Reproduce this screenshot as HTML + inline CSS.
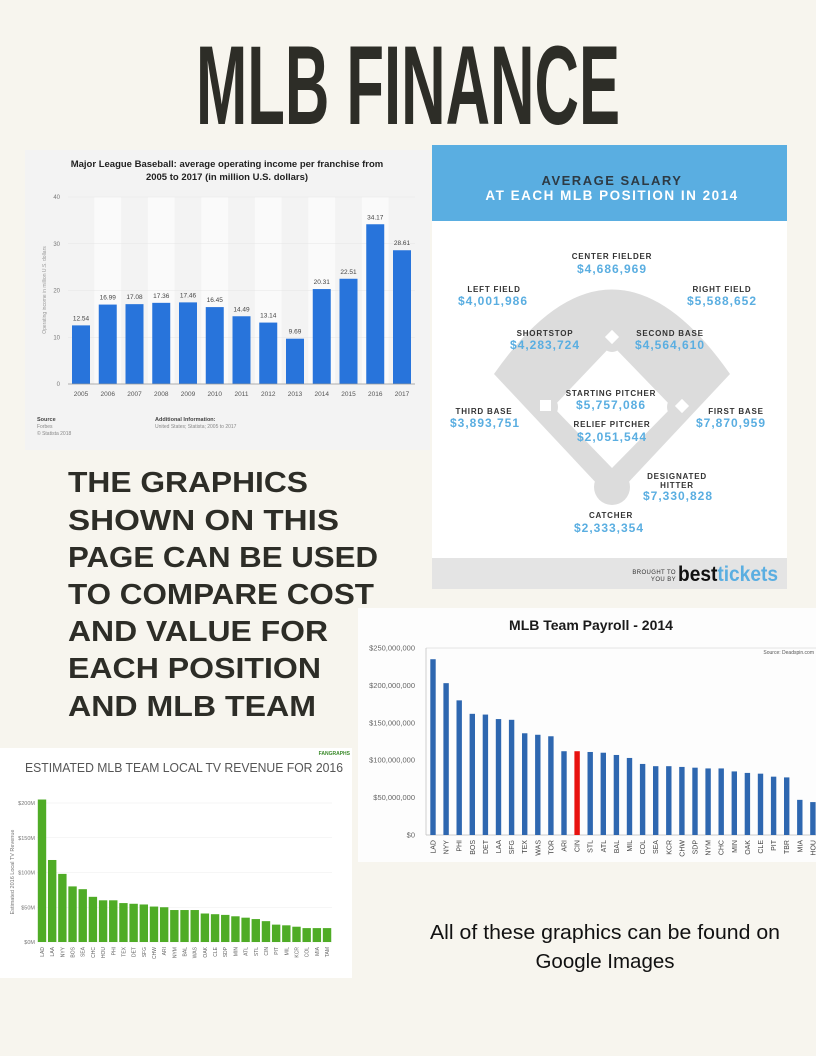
<!DOCTYPE html>
<html><head><meta charset="utf-8">
<style>
html,body{margin:0;padding:0}
body{width:816px;height:1056px;background:#f7f5ee;position:relative;overflow:hidden;font-family:"Liberation Sans",sans-serif}
svg{position:absolute;left:0;top:0}
</style></head><body>
<svg id="s" width="816" height="1056" viewBox="0 0 816 1056" xmlns="http://www.w3.org/2000/svg" font-family="Liberation Sans, sans-serif">
<!-- Title -->
<text x="196" y="124" font-size="112" font-weight="bold" fill="#2d2d27" textLength="424" lengthAdjust="spacingAndGlyphs" font-family="Liberation Sans Narrow, Liberation Sans, sans-serif">MLB FINANCE</text>

<!-- Chart 1 -->
<rect x="25" y="150" width="405" height="300" fill="#f3f3f3"/>
<text x="227" y="167" font-size="9.5" font-weight="bold" text-anchor="middle" fill="#222">Major League Baseball: average operating income per franchise from</text>
<text x="227" y="180" font-size="9.5" font-weight="bold" text-anchor="middle" fill="#222">2005 to 2017 (in million U.S. dollars)</text>
<g id="c1"></g>
<text x="37" y="421" font-size="5.5" font-weight="bold" fill="#444">Source</text>
<text x="37" y="428" font-size="5" fill="#888">Forbes</text>
<text x="37" y="435" font-size="5" fill="#888">© Statista 2018</text>
<text x="155" y="421" font-size="5.5" font-weight="bold" fill="#444">Additional Information:</text>
<text x="155" y="428" font-size="5" fill="#888">United States; Statista; 2005 to 2017</text>
<text x="46" y="290" font-size="5" fill="#999" text-anchor="middle" transform="rotate(-90 46 290)">Operating income in million U.S. dollars</text>

<!-- Left text -->
<g font-weight="bold" font-size="29" fill="#2d2d27">
<text x="68" y="492" textLength="240" lengthAdjust="spacingAndGlyphs">THE GRAPHICS</text>
<text x="68" y="530" textLength="271" lengthAdjust="spacingAndGlyphs">SHOWN ON THIS</text>
<text x="68" y="567" textLength="310" lengthAdjust="spacingAndGlyphs">PAGE CAN BE USED</text>
<text x="68" y="604" textLength="306" lengthAdjust="spacingAndGlyphs">TO COMPARE COST</text>
<text x="68" y="641" textLength="260" lengthAdjust="spacingAndGlyphs">AND VALUE FOR</text>
<text x="68" y="678" textLength="253" lengthAdjust="spacingAndGlyphs">EACH POSITION</text>
<text x="68" y="716" textLength="248" lengthAdjust="spacingAndGlyphs">AND MLB TEAM</text>
</g>

<!-- Salary infographic -->
<rect x="432" y="145" width="355" height="444" fill="#ffffff"/>
<rect x="432" y="145" width="355" height="76" fill="#5aaee1"/>
<text x="612" y="185" font-size="13" font-weight="bold" fill="#2d3a44" text-anchor="middle" letter-spacing="1.5">AVERAGE SALARY</text>
<text x="612" y="200" font-size="13.5" font-weight="bold" fill="#ffffff" text-anchor="middle" letter-spacing="1.5">AT EACH MLB POSITION IN 2014</text>
<rect x="432" y="558" width="355" height="31" fill="#e4e4e4"/>
<path d="M494,374 Q612,205 730,374 L625,486 L599,486 Z" fill="#dcdcdc"/>
<polygon points="612,345 553,407 612,468 672,407" fill="#ffffff"/>
<circle cx="612" cy="341" r="11" fill="#dcdcdc"/>
<circle cx="546" cy="407" r="12" fill="#dcdcdc"/>
<circle cx="679" cy="407" r="12" fill="#dcdcdc"/>
<circle cx="612" cy="487" r="18" fill="#dcdcdc"/>
<rect x="607" y="332" width="10" height="10" fill="#fff" transform="rotate(45 612 337)"/>
<rect x="540" y="400" width="11" height="11" fill="#fff"/>
<rect x="677" y="401" width="10" height="10" fill="#fff" transform="rotate(45 682 406)"/>
<g font-weight="bold" text-anchor="middle">
<g font-size="8" fill="#333" letter-spacing="0.8">
<text x="612" y="259">CENTER FIELDER</text>
<text x="494" y="292">LEFT FIELD</text>
<text x="722" y="292">RIGHT FIELD</text>
<text x="545" y="336">SHORTSTOP</text>
<text x="670" y="336">SECOND BASE</text>
<text x="611" y="396">STARTING PITCHER</text>
<text x="484" y="414">THIRD BASE</text>
<text x="736" y="414">FIRST BASE</text>
<text x="612" y="427">RELIEF PITCHER</text>
<text x="677" y="479">DESIGNATED</text>
<text x="677" y="488">HITTER</text>
<text x="611" y="518">CATCHER</text>
</g>
<g font-size="12" fill="#5aaee1" letter-spacing="1">
<text x="612" y="273">$4,686,969</text>
<text x="493" y="305">$4,001,986</text>
<text x="722" y="305">$5,588,652</text>
<text x="545" y="349">$4,283,724</text>
<text x="670" y="349">$4,564,610</text>
<text x="611" y="409">$5,757,086</text>
<text x="485" y="427">$3,893,751</text>
<text x="731" y="427">$7,870,959</text>
<text x="612" y="441">$2,051,544</text>
<text x="678" y="500">$7,330,828</text>
<text x="609" y="532">$2,333,354</text>
</g>
</g>
<text x="676" y="574" font-size="6" fill="#333" text-anchor="end" letter-spacing="0.4">BROUGHT TO</text>
<text x="676" y="581" font-size="6" fill="#333" text-anchor="end" letter-spacing="0.4">YOU BY</text>
<text x="678" y="581" font-size="21" font-weight="bold" fill="#111" textLength="100" lengthAdjust="spacingAndGlyphs">best<tspan fill="#5aaee1">tickets</tspan></text>

<!-- Payroll chart -->
<rect x="358" y="608" width="458" height="254" fill="#fdfdfd"/>
<text x="591" y="630" font-size="14" font-weight="bold" text-anchor="middle" fill="#1a1a1a">MLB Team Payroll - 2014</text>
<text x="814" y="654" font-size="5" fill="#555" text-anchor="end">Source: Deadspin.com</text>
<line x1="426" y1="648" x2="816" y2="648" stroke="#ccc" stroke-width="0.5"/>
<line x1="426" y1="648" x2="426" y2="835" stroke="#bbb" stroke-width="0.7"/>
<line x1="426" y1="835" x2="816" y2="835" stroke="#bbb" stroke-width="0.7"/>
<g id="c2"></g>

<!-- TV chart -->
<rect x="0" y="748" width="352" height="230" fill="#ffffff"/>
<text x="25" y="772" font-size="12.8" fill="#555" textLength="318" lengthAdjust="spacingAndGlyphs">ESTIMATED MLB TEAM LOCAL TV REVENUE FOR 2016</text>
<text x="350" y="755" font-size="5" font-weight="bold" fill="#3a8a2a" text-anchor="end">FANGRAPHS</text>
<text x="14" y="872" font-size="5.5" fill="#777" text-anchor="middle" transform="rotate(-90 14 872)">Estimated 2016 Local TV Revenue</text>
<g id="c3"></g>

<!-- Bottom text -->
<text x="605" y="939" font-size="20.5" text-anchor="middle" fill="#111" textLength="350" lengthAdjust="spacingAndGlyphs">All of these graphics can be found on</text>
<text x="605" y="968" font-size="20.5" text-anchor="middle" fill="#111">Google Images</text>
</svg>
<script>
var NS="http://www.w3.org/2000/svg";
function el(p,t,a,txt){var e=document.createElementNS(NS,t);for(var k in a)e.setAttribute(k,a[k]);if(txt!=null)e.textContent=txt;p.appendChild(e);return e;}
var g=document.getElementById('c1');
var v1=[12.54,16.99,17.08,17.36,17.46,16.45,14.49,13.14,9.69,20.31,22.51,34.17,28.61];
var y0=384,k=4.675;
for(var i=0;i<13;i++){var cx=81+i*26.75;if(i%2==1)el(g,'rect',{x:cx-13.4,y:197,width:26.75,height:187,fill:'#fafafa'});}
for(var t=0;t<=40;t+=10){var y=y0-t*k;el(g,'line',{x1:68,y1:y,x2:415,y2:y,stroke:'#e6e6e6','stroke-width':0.6});el(g,'text',{x:60,y:y+2,'font-size':6,fill:'#777','text-anchor':'end'},t);}
for(var i=0;i<13;i++){var cx=81+i*26.75,h=v1[i]*k;el(g,'rect',{x:cx-9,y:y0-h,width:18,height:h,fill:'#2874db'});
el(g,'text',{x:cx,y:y0-h-5,'font-size':6.5,fill:'#444','text-anchor':'middle'},v1[i].toFixed(2));
el(g,'text',{x:cx,y:396,'font-size':6.5,fill:'#555','text-anchor':'middle'},2005+i);}
el(g,'line',{x1:68,y1:y0,x2:415,y2:y0,stroke:'#999','stroke-width':0.8});
g=document.getElementById('c2');
var t2="LAD NYY PHI BOS DET LAA SFG TEX WAS TOR ARI CIN STL ATL BAL MIL COL SEA KCR CHW SDP NYM CHC MIN OAK CLE PIT TBR MIA HOU".split(" ");
var v2=[235,203,180,162,161,155,154,136,134,132,112,112,111,110,107,103,95,92,92,91,90,89,89,85,83,82,78,77,47,44];
var labs=["$250,000,000","$200,000,000","$150,000,000","$100,000,000","$50,000,000","$0"];
for(var j=0;j<6;j++){var y=648+j*37.4;el(g,'text',{x:415,y:y+2.5,'font-size':7.5,fill:'#666','text-anchor':'end'},labs[j]);}
for(var i=0;i<30;i++){var cx=433+i*13.1,h=v2[i]*0.748;el(g,'rect',{x:cx-2.7,y:835-h,width:5.4,height:h,fill:i==11?'#e8120f':'#2e67b0'});
el(g,'text',{x:cx+2.5,y:840,'font-size':7,fill:'#444','text-anchor':'end',transform:'rotate(-90 '+(cx+2.5)+' 840)'},t2[i]);}
g=document.getElementById('c3');
var t3="LAD LAA NYY BOS SEA CHC HOU PHI TEX DET SFG CHW ARI NYM BAL WAS OAK CLE SDP MIN ATL STL CIN PIT MIL KCR COL MIA TAM".split(" ");
var v3=[205,118,98,80,76,65,60,60,56,55,54,51,50,46,46,46,41,40,39,37,35,33,30,25,24,22,20,20,20];
var l3=["$200M","$150M","$100M","$50M","$0M"];
for(var j=0;j<5;j++){var y=803+j*34.75;el(g,'line',{x1:37,y1:y,x2:332,y2:y,stroke:'#eee','stroke-width':0.6});el(g,'text',{x:35,y:y+2,'font-size':5.5,fill:'#777','text-anchor':'end'},l3[j]);}
for(var i=0;i<29;i++){var cx=42+i*10.18,h=v3[i]*0.695;el(g,'rect',{x:cx-4.2,y:942-h,width:8.4,height:h,fill:'#4fac26'});
el(g,'text',{x:cx+2,y:947,'font-size':5,fill:'#666','text-anchor':'end',transform:'rotate(-90 '+(cx+2)+' 947)'},t3[i]);}
</script>
</body></html>
